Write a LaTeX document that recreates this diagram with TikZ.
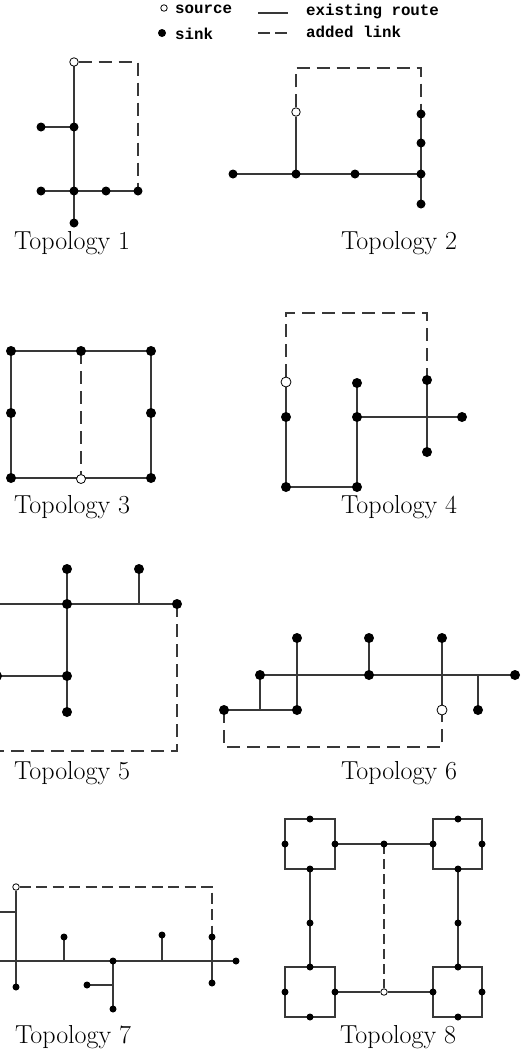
\documentclass[tikz,border=0pt]{standalone}
\usepackage{fontspec}
\newfontfamily\legendfont{Liberation Mono}
\pgfdeclarelayer{bg}
\pgfsetlayers{bg,main}
\tikzset{
  sink/.style={circle, fill=black, inner sep=0pt, minimum size=9pt},
  bigsink/.style={sink, minimum size=10pt},
  smallsink/.style={sink, minimum size=7pt},
  src/.style={circle, draw=black, fill=white, line width=0.8pt, inner sep=0pt, minimum size=8.5pt},
  bigsrc/.style={src, minimum size=10pt},
  smallsrc/.style={src, minimum size=6.5pt},
  route/.style={line width=1.25pt, draw=black!78},
  link/.style={route, dash pattern=on 13pt off 7pt},
  mediumlink/.style={route, dash pattern=on 11pt off 5.5pt},
  shortlink/.style={route, dash pattern=on 10pt off 5pt},
  title/.style={font=\fontsize{26}{30}\selectfont, inner sep=0pt},
  legendtext/.style={font=\legendfont\bfseries\fontsize{15.8}{18}\selectfont, inner sep=0pt, anchor=west},
}
\begin{document}
\begin{tikzpicture}[x=1pt,y=-1pt]
\useasboundingbox (0,0) rectangle (524,1050);
\clip (0,0) rectangle (524,1050);

% ---------------- legend ----------------
\node[smallsrc] (ls) at (164,8) {};
\node[sink, minimum size=8pt] (lk) at (162,33) {};
\node[legendtext] (lst) at (175,9) {source};
\node[legendtext] (lkt) at (175,34) {sink};
\coordinate (le1) at (258,13);
\coordinate (le2) at (288,13);
\coordinate (la1) at (258,33);
\coordinate (la2) at (288,33);
\node[legendtext] (let) at (306,11) {existing route};
\node[legendtext] (lat) at (306,32) {added link};
\draw[route] (le1) -- (le2);
\draw[route, dash pattern=on 12pt off 5pt] (la1) -- (la2);

% ---------------- Topology 1 ----------------
\node[src] (a0) at (74,62) {};
\node[sink] (a1) at (74,127) {};
\node[sink] (a2) at (41,127) {};
\node[sink] (a3) at (41,191) {};
\node[sink] (a4) at (74,191) {};
\node[sink] (a5) at (106,191) {};
\node[sink] (a6) at (138,191) {};
\node[sink] (a7) at (74,223) {};
\node[title] (t1) at (72,243) {Topology 1};
\begin{pgfonlayer}{bg}
\draw[route] (a0.center) -- (a7.center);
\draw[route] (a2.center) -- (a1.center);
\draw[route] (a3.center) -- (a6.center);
\draw[link] (a0) -| (a6.center);
\end{pgfonlayer}

% ---------------- Topology 2 ----------------
\node[src] (b0) at (296,112) {};
\node[sink] (b1) at (233,174) {};
\node[sink] (b2) at (296,174) {};
\node[sink] (b3) at (355,174) {};
\node[sink] (b4) at (421,174) {};
\node[sink] (b5) at (421,114) {};
\node[sink] (b6) at (421,143) {};
\node[sink] (b7) at (421,204) {};
\coordinate (b8) at (296,68);
\coordinate (b9) at (421,68);
\node[title] (t2) at (399,243) {Topology 2};
\begin{pgfonlayer}{bg}
\draw[route] (b1.center) -- (b4.center);
\draw[route] (b0) -- (b2.center);
\draw[route] (b5.center) -- (b7.center);
\draw[link] (b0) -- (b8) -- (b9) -- (b5.center);
\end{pgfonlayer}

% ---------------- Topology 3 ----------------
\node[bigsink] (c1) at (11,351) {};
\node[bigsink] (c2) at (81,351) {};
\node[bigsink] (c3) at (151,351) {};
\node[bigsink] (c4) at (11,413) {};
\node[bigsink] (c5) at (151,413) {};
\node[bigsink] (c6) at (11,478) {};
\node[src, minimum size=9pt] (c0) at (81,479) {};
\node[bigsink] (c7) at (151,478) {};
\node[title] (t3) at (72,507) {Topology 3};
\begin{pgfonlayer}{bg}
\draw[route] (c1.center) -- (c3.center) -- (c7.center) -- (c6.center) -- cycle;
\draw[link] (c2.center) -- (c0);
\end{pgfonlayer}

% ---------------- Topology 4 ----------------
\node[bigsrc] (d0) at (286,382) {};
\node[bigsink] (d1) at (286,417) {};
\node[bigsink] (d2) at (286,487) {};
\node[bigsink] (d3) at (357,383) {};
\node[bigsink] (d4) at (357,417) {};
\node[bigsink] (d5) at (357,487) {};
\node[bigsink] (d6) at (427,380) {};
\node[bigsink] (d7) at (427,452) {};
\node[bigsink] (d8) at (462,417) {};
\coordinate (d9) at (286,313);
\coordinate (d10) at (427,313);
\node[title] (t4) at (399,507) {Topology 4};
\begin{pgfonlayer}{bg}
\draw[route] (d0) -- (d2.center) -- (d5.center) -- (d3.center);
\draw[route] (d4.center) -- (d8.center);
\draw[route] (d6.center) -- (d7.center);
\draw[link] (d0) -- (d9) -- (d10) -- (d6.center);
\end{pgfonlayer}

% ---------------- Topology 5 ----------------
\node[bigsink] (e1) at (67,569) {};
\node[bigsink] (e2) at (139,569) {};
\node[bigsink] (e3) at (67,604) {};
\node[bigsink] (e4) at (177,604) {};
\node[bigsink] (e5) at (67,676) {};
\node[bigsink] (e6) at (67,712) {};
\node[bigsink] (e7) at (-3,676) {};
\coordinate (e8) at (-12,604);
\coordinate (e9) at (139,604);
\coordinate (e10) at (177,751);
\coordinate (e11) at (-12,751);
\node[title] (t5) at (72,773) {Topology 5};
\begin{pgfonlayer}{bg}
\draw[route] (e8) -- (e4.center);
\draw[route] (e1.center) -- (e5.center) -- (e6.center);
\draw[route] (e2.center) -- (e9);
\draw[route] (e7.center) -- (e5.center);
\draw[link] (e4.center) -- (e10) -- (e11);
\end{pgfonlayer}

% ---------------- Topology 6 ----------------
\node[bigsink] (f1) at (297,638) {};
\node[bigsink] (f2) at (369,638) {};
\node[bigsink] (f3) at (442,638) {};
\node[bigsink] (f4) at (260,675) {};
\node[bigsink] (f5) at (369,675) {};
\node[bigsink] (f6) at (515,675) {};
\node[bigsink] (f7) at (224,710) {};
\node[bigsink] (f8) at (297,710) {};
\node[bigsrc] (f0) at (442,710) {};
\node[bigsink] (f9) at (478,710) {};
\coordinate (f10) at (260,710);
\coordinate (f11) at (478,675);
\coordinate (f12) at (224,747);
\coordinate (f13) at (442,747);
\node[title] (t6) at (399,773) {Topology 6};
\begin{pgfonlayer}{bg}
\draw[route] (f4.center) -- (f6.center);
\draw[route] (f7.center) -- (f8.center);
\draw[route] (f4.center) -- (f10);
\draw[route] (f1.center) -- (f8.center);
\draw[route] (f2.center) -- (f5.center);
\draw[route] (f3.center) -- (f0);
\draw[route] (f9.center) -- (f11);
\draw[link] (f7.center) -- (f12) -- (f13) -- (f0);
\end{pgfonlayer}

% ---------------- Topology 7 ----------------
\node[smallsrc] (g0) at (16,887) {};
\node[smallsink] (g1) at (16,987) {};
\node[smallsink] (g2) at (64,937) {};
\node[smallsink] (g3) at (113,961) {};
\node[smallsink] (g4) at (113,1009) {};
\node[smallsink] (g5) at (87,985) {};
\node[smallsink] (g6) at (162,935) {};
\node[smallsink] (g7) at (212,937) {};
\node[smallsink] (g8) at (212,983) {};
\node[smallsink] (g9) at (236,961) {};
\coordinate (k1) at (-10,912);
\coordinate (k2) at (16,912);
\coordinate (k3) at (-10,961);
\coordinate (k4) at (64,961);
\coordinate (k5) at (113,985);
\coordinate (k6) at (162,961);
\coordinate (k7) at (212,887);
\node[title] (t7) at (73,1037) {Topology 7};
\begin{pgfonlayer}{bg}
\draw[route] (g0) -- (g1.center);
\draw[route] (k1) -- (k2);
\draw[route] (k3) -- (g9.center);
\draw[route] (g2.center) -- (k4);
\draw[route] (g3.center) -- (g4.center);
\draw[route] (g5.center) -- (k5);
\draw[route] (g6.center) -- (k6);
\draw[route] (g7.center) -- (g8.center);
\draw[mediumlink] (g0) -- (k7) -- (g7.center);
\end{pgfonlayer}

% ---------------- Topology 8 ----------------
\node[smallsink] (h1t) at (310,819) {};
\node[smallsink] (h1l) at (285,844) {};
\node[smallsink] (h1r) at (335,844) {};
\node[smallsink] (h1b) at (310,869) {};
\node[smallsink] (h2t) at (458,819) {};
\node[smallsink] (h2l) at (433,844) {};
\node[smallsink] (h2r) at (482,844) {};
\node[smallsink] (h2b) at (458,869) {};
\node[smallsink] (h3t) at (310,967) {};
\node[smallsink] (h3l) at (285,992) {};
\node[smallsink] (h3r) at (335,992) {};
\node[smallsink] (h3b) at (310,1017) {};
\node[smallsink] (h4t) at (458,967) {};
\node[smallsink] (h4l) at (433,992) {};
\node[smallsink] (h4r) at (482,992) {};
\node[smallsink] (h4b) at (458,1017) {};
\node[smallsink] (hm) at (384,844) {};
\node[smallsink] (hv1) at (310,923) {};
\node[smallsink] (hv2) at (458,923) {};
\node[smallsrc] (h0) at (384,992) {};
\node[title] (t8) at (398,1037) {Topology 8};
\begin{pgfonlayer}{bg}
\draw[route] (h1l.center) |- (h1t.center) -| (h1r.center) |- (h1b.center) -| (h1l.center) -- cycle;
\draw[route] (h2l.center) |- (h2t.center) -| (h2r.center) |- (h2b.center) -| (h2l.center) -- cycle;
\draw[route] (h3l.center) |- (h3t.center) -| (h3r.center) |- (h3b.center) -| (h3l.center) -- cycle;
\draw[route] (h4l.center) |- (h4t.center) -| (h4r.center) |- (h4b.center) -| (h4l.center) -- cycle;
\draw[route] (h1r.center) -- (h2l.center);
\draw[route] (h3r.center) -- (h0) -- (h4l.center);
\draw[route] (h1b.center) -- (h3t.center);
\draw[route] (h2b.center) -- (h4t.center);
\draw[shortlink] (hm.center) -- (h0);
\end{pgfonlayer}
\end{tikzpicture}
\end{document}
